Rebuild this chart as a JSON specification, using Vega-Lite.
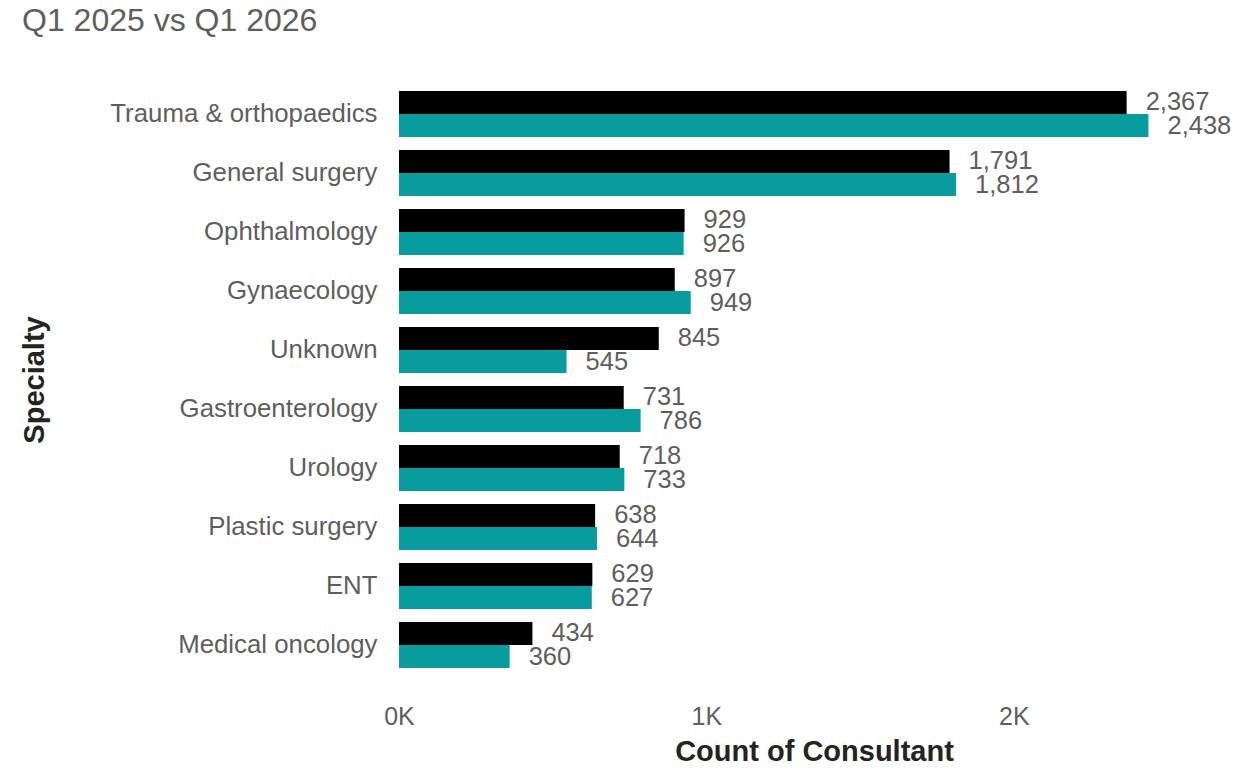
{
  "$schema": "https://vega.github.io/schema/vega-lite/v6.json",
  "autosize": {"type": "none"},
  "padding": {"left": 399, "top": 84.5, "right": 19, "bottom": 102.5},
  "width": 830,
  "height": 590,
  "background": "white",
  "title": {
    "text": "Q1 2025 vs Q1 2026",
    "anchor": "start",
    "frame": "group",
    "dx": -377,
    "font": "Liberation Sans",
    "fontSize": 32,
    "fontWeight": "normal",
    "color": "#605E5C",
    "baseline": "alphabetic",
    "offset": 22
  },
  "config": {
    "view": {"stroke": null},
    "font": "Liberation Sans"
  },
  "data": {
    "values": [
      {"specialty": "Trauma & orthopaedics", "series": "Q1 2025", "count": 2367},
      {"specialty": "Trauma & orthopaedics", "series": "Q1 2026", "count": 2438},
      {"specialty": "General surgery", "series": "Q1 2025", "count": 1791},
      {"specialty": "General surgery", "series": "Q1 2026", "count": 1812},
      {"specialty": "Ophthalmology", "series": "Q1 2025", "count": 929},
      {"specialty": "Ophthalmology", "series": "Q1 2026", "count": 926},
      {"specialty": "Gynaecology", "series": "Q1 2025", "count": 897},
      {"specialty": "Gynaecology", "series": "Q1 2026", "count": 949},
      {"specialty": "Unknown", "series": "Q1 2025", "count": 845},
      {"specialty": "Unknown", "series": "Q1 2026", "count": 545},
      {"specialty": "Gastroenterology", "series": "Q1 2025", "count": 731},
      {"specialty": "Gastroenterology", "series": "Q1 2026", "count": 786},
      {"specialty": "Urology", "series": "Q1 2025", "count": 718},
      {"specialty": "Urology", "series": "Q1 2026", "count": 733},
      {"specialty": "Plastic surgery", "series": "Q1 2025", "count": 638},
      {"specialty": "Plastic surgery", "series": "Q1 2026", "count": 644},
      {"specialty": "ENT", "series": "Q1 2025", "count": 629},
      {"specialty": "ENT", "series": "Q1 2026", "count": 627},
      {"specialty": "Medical oncology", "series": "Q1 2025", "count": 434},
      {"specialty": "Medical oncology", "series": "Q1 2026", "count": 360}
    ]
  },
  "encoding": {
    "y": {
      "field": "specialty",
      "type": "nominal",
      "sort": ["Trauma & orthopaedics", "General surgery", "Ophthalmology", "Gynaecology", "Unknown", "Gastroenterology", "Urology", "Plastic surgery", "ENT", "Medical oncology"],
      "scale": {"paddingInner": 0.22, "paddingOuter": 0.11},
      "axis": {
        "title": "Specialty",
        "titleFont": "Liberation Sans",
        "titleFontSize": 29,
        "titleFontWeight": "bold",
        "titleColor": "#252423",
        "titlePadding": 150,
        "labelFont": "Liberation Sans",
        "labelFontSize": 25.8,
        "labelColor": "#605E5C",
        "labelPadding": 22,
        "labelLimit": 400,
        "ticks": false,
        "domain": false,
        "grid": false
      }
    },
    "yOffset": {
      "field": "series",
      "type": "nominal",
      "sort": ["Q1 2025", "Q1 2026"],
      "scale": {"paddingInner": 0, "paddingOuter": 0}
    },
    "x": {
      "field": "count",
      "type": "quantitative",
      "scale": {"domain": [0, 2700], "nice": false, "zero": true},
      "axis": {
        "title": "Count of Consultant",
        "titleFont": "Liberation Sans",
        "titleFontSize": 29,
        "titleFontWeight": "bold",
        "titleColor": "#252423",
        "titlePadding": 8,
        "values": [0, 1000, 2000],
        "labelExpr": "(datum.value / 1000) + 'K'",
        "labelFlush": false,
        "labelFont": "Liberation Sans",
        "labelFontSize": 25,
        "labelColor": "#605E5C",
        "labelPadding": 30,
        "ticks": false,
        "domain": false,
        "grid": false
      }
    }
  },
  "layer": [
    {
      "mark": {"type": "bar"},
      "encoding": {
        "color": {
          "field": "series",
          "type": "nominal",
          "scale": {"domain": ["Q1 2025", "Q1 2026"], "range": ["#000000", "#089C9F"]},
          "legend": null
        }
      }
    },
    {
      "mark": {"type": "text", "align": "left", "baseline": "middle", "dx": 19, "font": "Liberation Sans", "fontSize": 25.5, "color": "#605E5C"},
      "encoding": {
        "text": {"field": "count", "type": "quantitative", "format": ","}
      }
    }
  ]
}
